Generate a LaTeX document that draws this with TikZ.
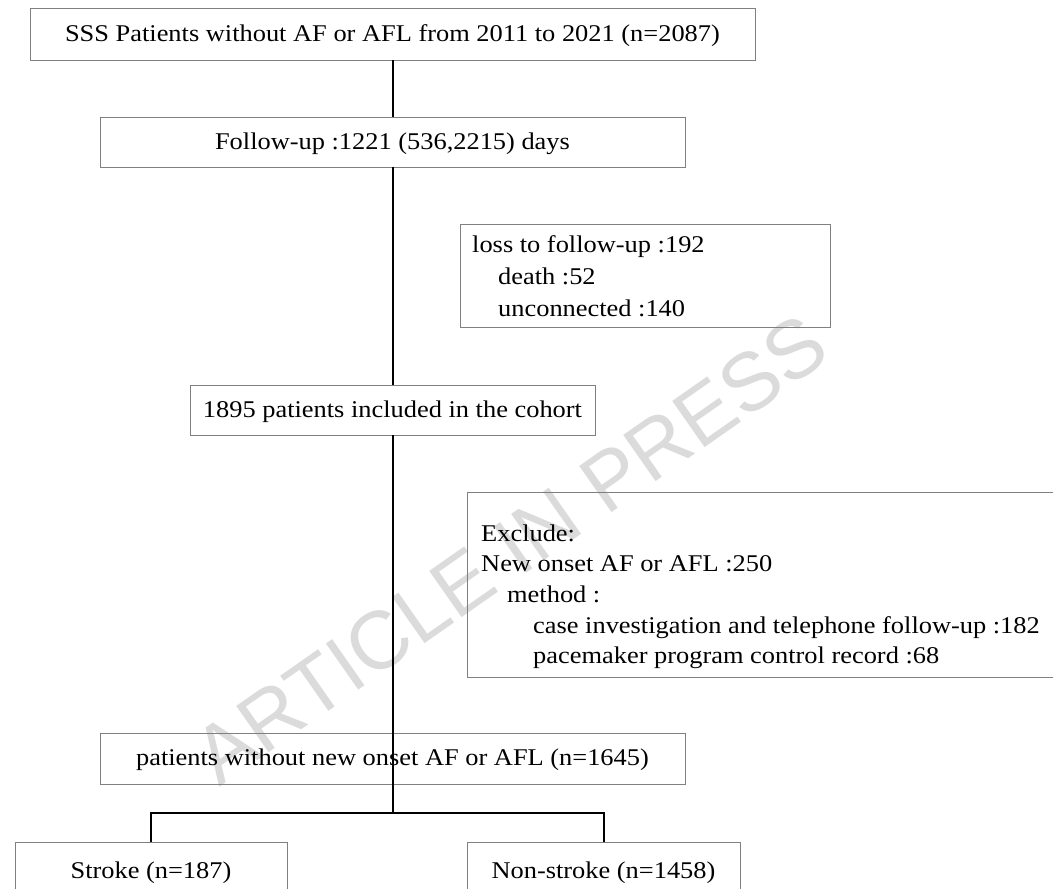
\documentclass[tikz,border=0pt]{standalone}
\usepackage{fontspec}
\setmainfont{Liberation Serif}[FakeStretch=1.1]
\newfontfamily\wmfont{Liberation Sans}
\begin{document}
\begin{tikzpicture}[x=1pt,y=-1pt,
  txt/.style={font=\fontsize{24}{32}\selectfont, inner sep=0pt},
  box/.style={draw=black!50, line width=0.9pt, inner sep=0pt, txt, text height=17pt, text depth=3pt},
  ltxt/.style={txt, anchor=base west},
  conn/.style={draw=black, line width=2pt},
  wm/.style={text=black!14, font=\wmfont\fontsize{82}{82}\selectfont, inner sep=0pt}]
\useasboundingbox (0,0) rectangle (1053,889);
\clip (0,0) rectangle (1053,889);
\fill[white] (0,0) rectangle (1053,889);
% watermark
\node[wm, rotate=35, anchor=base west] (wmark) at (219,788) {ARTICLE IN PRESS};
% boxes
\node[box, minimum width=725pt, minimum height=52pt] (n1) at (392.5,34) {SSS Patients without AF or AFL from 2011 to 2021 (n=2087)};
\node[box, minimum width=585pt, minimum height=50pt] (n2) at (392.5,142) {Follow-up :1221 (536,2215) days};
\node[box, minimum width=370pt, minimum height=103pt] (n3) at (645,275.5) {};
\node[ltxt] (l1) at (472,252) {loss to follow-up :192};
\node[ltxt] (l2) at (498,284) {death :52};
\node[ltxt] (l3) at (498,316) {unconnected :140};
\node[box, minimum width=405pt, minimum height=50pt] (n4) at (392.5,410) {1895 patients included in the cohort};
\node[box, minimum width=603pt, minimum height=185pt] (n5) at (768.5,584.5) {};
\node[ltxt] (e1) at (481,541) {Exclude:};
\node[ltxt] (e2) at (481,571.7) {New onset AF or AFL :250};
\node[ltxt] (e3) at (507,602.4) {method :};
\node[ltxt] (e4) at (533,633) {case investigation and telephone follow-up :182};
\node[ltxt] (e5) at (533,663.7) {pacemaker program control record :68};
\node[box, minimum width=585pt, minimum height=51pt] (n6) at (392.5,758.5) {patients without new onset AF or AFL (n=1645)};
\node[box, minimum width=272pt, minimum height=58pt] (n7) at (151,871) {Stroke (n=187)};
\node[box, minimum width=273pt, minimum height=58pt] (n8) at (603.5,871) {Non-stroke (n=1458)};
% connectors
\coordinate (br) at (392.5,813);
\draw[conn] (n1.south) -- (n2.north);
\draw[conn] (n2.south) -- (n4.north);
\draw[conn] (n4.south) -- (br);
\draw[conn] (n7.north) |- (br) -| (n8.north);
\end{tikzpicture}
\end{document}
